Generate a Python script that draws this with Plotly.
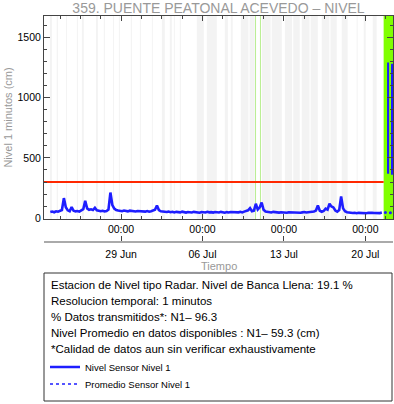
import plotly.graph_objects as go
import pandas as pd

# ---------------- data ----------------
TITLE = "359. PUENTE PEATONAL ACEVEDO – NIVEL"
Y_TITLE = "Nivel 1 minutos (cm)"
X_TITLE = "Tiempo"
BASE = pd.Timestamp("2024-06-29 00:00")
X_START = "2024-06-22 09:00"
X_END = "2024-07-22 09:00"

level_start = "2024-06-22 22:00"
level_step = "4h"
level_values = [
    52, 56, 50, 58, 54, 60, 68, 167, 92, 66, 58, 93,
    62, 57, 60, 55, 62, 75, 145, 82, 70, 74, 68, 87,
    66, 60, 58, 62, 56, 60, 72, 213, 110, 80, 68, 64,
    62, 58, 64, 60, 57, 63, 59, 61, 56, 60, 58, 62,
    57, 55, 60, 54, 58, 62, 70, 106, 68, 58, 54, 56,
    52, 55, 50, 54, 48, 53, 51, 49, 55, 50, 47, 52,
    50, 48, 53, 49, 51, 46, 52, 50, 48, 54, 49, 51,
    47, 52, 50, 48, 53, 49, 46, 51, 48, 52, 50, 47,
    51, 49, 53, 48, 55, 60, 66, 84, 58, 62, 120, 72,
    90, 131, 70, 56, 52, 50, 48, 53, 49, 51, 47, 50,
    48, 52, 46, 50, 49, 47, 51, 48, 50, 46, 49, 52,
    48, 50, 47, 51, 56, 64, 106, 62, 54, 60, 80, 72,
    120, 98, 90, 64, 55, 68, 180, 82, 58, 50, 47, 45,
    44, 46, 42, 45, 43, 47, 44, 42, 46, 43, 45, 44,
    42, 46, 43, 47,
]

end_times = ["2024-07-21 22:40", "2024-07-21 22:50", "2024-07-21 23:00", None,
             "2024-07-22 06:50", "2024-07-22 07:00", "2024-07-22 07:10"]
end_values = [370, 1290, 368, None, 362, 1280, 360]
dot_times = ["2024-07-21 17:20", "2024-07-22 03:36"]
dot_values = [48, 46]

bankfull_level = 300

# missing-data bands (days from 29 Jun 00:00)
gap_start_days = [-6.12, -5.53, -4.74, -3.80, -3.37, -2.16, -1.48, -0.70, -0.19, 0.84,
                  1.62, 2.65, 3.51, 4.19, 4.54, 5.05, 6.51, 7.37, 8.92, 9.43,
                  10.29, 11.05, 12.10, 12.95, 14.08, 14.80, 15.53, 16.30, 17.25, 18.00,
                  18.97, 20.25, 20.86, 21.63]
gap_end_days = [-5.95, -5.43, -4.66, -3.71, -3.20, -1.99, -1.39, -0.62, -0.10, 0.93,
                1.70, 2.73, 3.76, 4.36, 4.62, 5.14, 7.11, 8.23, 9.18, 9.60,
                10.95, 11.49, 12.85, 13.82, 14.70, 15.36, 16.20, 16.91, 17.90, 18.54,
                19.48, 20.34, 21.03, 21.97]
marker_line_days = [11.56, 11.98]
recent_start_days = 22.57

info_lines = [
    "Estacion de Nivel tipo Radar. Nivel de Banca Llena: 19.1 %",
    "Resolucion temporal: 1 minutos",
    "% Datos transmitidos*: N1– 96.3",
    "Nivel Promedio en datos disponibles : N1– 59.3 (cm)",
    "*Calidad de datos aun sin verificar exhaustivamente",
]
legend_names = ["Nivel Sensor Nivel 1", "Promedio Sensor Nivel 1"]

# ---------------- figure ----------------
W, H = 394, 404
ML, MR, MT, MB = 44, 1, 16, 0
PH = H - MT - MB


def py(p):  # pixel row -> paper y
    return (H - p) / PH


def px(p):  # pixel column -> paper x
    return (p - ML) / (W - ML - MR)


def day(d):
    return BASE + pd.to_timedelta(d, unit="D")


FONT = "Liberation Sans, Arial, sans-serif"
BLUE = "rgb(30,30,255)"

level_times = pd.date_range(level_start, periods=len(level_values), freq=level_step)

fig = go.Figure()
fig.add_trace(go.Scatter(x=level_times, y=level_values, mode="lines",
                         line=dict(color=BLUE, width=2.6), name=legend_names[0],
                         legend="legend"))
# legend-only entry for the average (not visible in the plot area)
fig.add_trace(go.Scatter(x=[None], y=[None], mode="lines",
                         line=dict(color=BLUE, width=1.5, dash="dot"),
                         name=legend_names[1], legend="legend2"))
fig.add_trace(go.Scatter(x=[X_START, day(recent_start_days)], y=[bankfull_level] * 2,
                         mode="lines", line=dict(color="rgb(255,40,0)", width=2),
                         showlegend=False))
fig.add_trace(go.Scatter(x=end_times, y=end_values, mode="lines",
                         line=dict(color=BLUE, width=2), showlegend=False, connectgaps=False))
fig.add_trace(go.Scatter(x=dot_times, y=dot_values, mode="markers",
                         marker=dict(color=BLUE, size=3), showlegend=False))

shapes = []
for s, e in zip(gap_start_days, gap_end_days):
    shapes.append(dict(type="rect", xref="x", yref="y domain", x0=day(s), x1=day(e),
                       y0=0, y1=1, fillcolor="#f3f3f3", line=dict(width=0), layer="below"))
for d in marker_line_days:
    shapes.append(dict(type="line", xref="x", yref="y domain", x0=day(d), x1=day(d),
                       y0=0, y1=1, line=dict(color="#b8ee90", width=1), layer="below"))
shapes.append(dict(type="rect", xref="x", yref="y domain", x0=day(recent_start_days), x1=X_END,
                   y0=0, y1=1, fillcolor="#80ff00", line=dict(width=0), layer="below"))
# info box
shapes.append(dict(type="rect", xref="paper", yref="paper", x0=px(44), x1=px(392),
                   y0=py(401), y1=py(273), line=dict(color="#333333", width=1)))

annotations = []
for i, t in enumerate(info_lines):
    annotations.append(dict(text=t, xref="paper", yref="paper", x=px(49), y=py(285 + 16 * i),
                            xanchor="left", yanchor="middle", showarrow=False,
                            font=dict(family=FONT, size=11.5, color="black")))
# x-axis title, sitting close under the date row
annotations.append(dict(text=X_TITLE, xref="paper", yref="paper", x=px(219), y=py(266),
                        xanchor="center", yanchor="middle", showarrow=False,
                        font=dict(family=FONT, size=11, color="#999999")))

axis_common = dict(showgrid=False, zeroline=False)
date_ticks = dict(tick0="2024-06-29", dtick=7 * 86400000)
legend_common = dict(xanchor="left", yanchor="middle", bgcolor="rgba(0,0,0,0)", borderwidth=0,
                     font=dict(family=FONT, size=9.5, color="black"))
fig.update_layout(
    width=W, height=H,
    margin=dict(l=ML, r=MR, t=MT, b=MB, autoexpand=False),
    paper_bgcolor="white", plot_bgcolor="white",
    font=dict(family=FONT, color="black"),
    title=dict(text=TITLE, xref="container", x=218.5 / W, xanchor="center",
               yref="container", y=1 - 8 / H, yanchor="middle",
               font=dict(family=FONT, size=14, color="#999999")),
    xaxis=dict(type="date", range=[X_START, X_END], autorange=False, domain=[0, 1], anchor="y",
               showline=True, linecolor="#444444", linewidth=1, mirror="ticks",
               ticks="inside", ticklen=5, tickcolor="#444444", tickformat="%H:%M",
               tickfont=dict(size=10.5, color="black"), ticklabelstandoff=0,
               minor=dict(ticks="inside", ticklen=3, tickcolor="#444444",
                          tick0="2024-06-29", dtick=42 * 3600000),
               **date_ticks, **axis_common),
    xaxis2=dict(type="date", range=[X_START, X_END], autorange=False, overlaying="x",
                anchor="free", position=py(242), domain=[0, 1],
                side="bottom", showline=True, linecolor="#aaaaaa", linewidth=2,
                ticks="inside", ticklen=5, tickcolor="#444444", tickformat="%d %b",
                tickfont=dict(size=10.5, color="black"), ticklabelstandoff=2,
                **date_ticks, **axis_common),
    yaxis=dict(domain=[py(219), 1], range=[-6, 1675], autorange=False, anchor="x",
               showline=True, linecolor="#444444", linewidth=1, mirror="ticks",
               ticks="inside", ticklen=6, tickcolor="#444444", tick0=0, dtick=500,
               tickfont=dict(size=10.5, color="black"),
               minor=dict(ticks="inside", ticklen=3, tickcolor="#444444", dtick=100),
               title=dict(text=Y_TITLE, font=dict(size=11, color="#999999"), standoff=2),
               **axis_common),
    showlegend=True,
    legend=dict(x=px(45), y=py(367), **legend_common),
    legend2=dict(x=px(45), y=py(384), **legend_common),
    shapes=shapes,
    annotations=annotations,
)

# dummy trace to activate xaxis2
fig.add_trace(go.Scatter(x=[X_START, X_END], y=[None, None], xaxis="x2", yaxis="y",
                         showlegend=False, hoverinfo="skip"))

fig.write_html("out.html", config={"displayModeBar": False},
               post_script="document.body.style.margin='0';")
